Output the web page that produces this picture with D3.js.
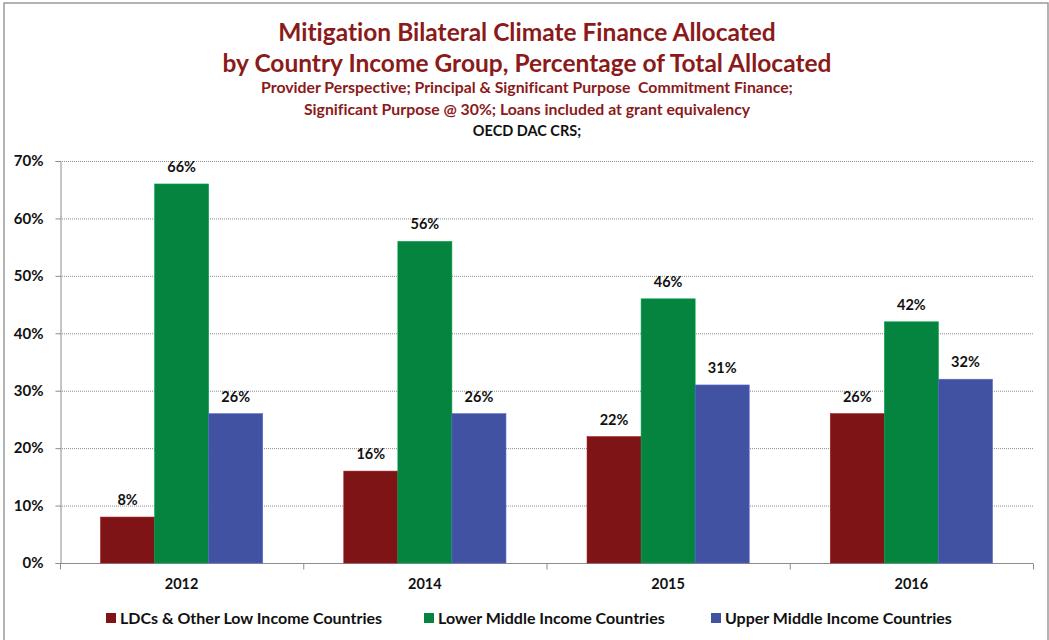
<!DOCTYPE html>
<html>
<head>
<meta charset="utf-8">
<script src="https://cdn.jsdelivr.net/npm/d3@7"></script>
<style>
  body { margin: 0; background: #fff; }
  text { font-family: Lato, "Open Sans", sans-serif; font-variant-ligatures: none; }
</style>
</head>
<body>
<script>
var width = 1049, height = 640;

var years = ["2012", "2014", "2015", "2016"];
var seriesNames = ["LDCs & Other Low Income Countries", "Lower Middle Income Countries", "Upper Middle Income Countries"];
var seriesColors = ["#7f1416", "#04843f", "#4152a3"];
var ldcValues = [8, 16, 22, 26];
var lmicValues = [66, 56, 46, 42];
var umicValues = [26, 26, 31, 32];
var yTicks = [0, 10, 20, 30, 40, 50, 60, 70];
var titleLines = ["Mitigation Bilateral Climate Finance Allocated", "by Country Income Group, Percentage of Total Allocated"];
var subtitleLines = ["Provider Perspective; Principal & Significant Purpose  Commitment Finance;", "Significant Purpose @ 30%; Loans included at grant equivalency"];
var sourceLine = "OECD DAC CRS;";

var series = [ldcValues, lmicValues, umicValues];

var svg = d3.select("body").append("svg")
    .attr("width", width)
    .attr("height", height);

// outer frame
svg.append("rect")
    .attr("x", 4).attr("y", 3)
    .attr("width", 1044).attr("height", 660)
    .style("fill", "white")
    .style("stroke", "#9a9a9a")
    .style("stroke-width", 1.5);

// titles
var titleY = [33, 64];
titleLines.forEach(function(t, i){
    svg.append("text")
        .attr("x", 527).attr("y", titleY[i] + 8)
        .attr("text-anchor", "middle")
        .style("font-size", "24.5px")
        .style("font-weight", "bold")
        .style("fill", "#8b1a1a")
        .text(t);
});
var subY = [88, 110];
subtitleLines.forEach(function(t, i){
    svg.append("text")
        .attr("x", 527).attr("y", subY[i] + 5)
        .attr("text-anchor", "middle")
        .style("font-size", "15.8px")
        .style("font-weight", "bold")
        .style("fill", "#8b1a1a")
        .style("white-space", "pre")
        .text(t);
});
svg.append("text")
    .attr("x", 527).attr("y", 136)
    .attr("text-anchor", "middle")
    .style("font-size", "14.5px")
    .style("font-weight", "bold")
    .style("fill", "#111")
    .text(sourceLine);

var plotLeft = 60, plotRight = 1033, plotTop = 161, plotBottom = 563;

var x = d3.scaleBand()
    .domain(years)
    .range([plotLeft, plotRight])
    .paddingInner(1 / 3)
    .paddingOuter(1 / 6);

var xs = d3.scaleBand()
    .domain(d3.range(series.length))
    .range([0, x.bandwidth()]);

var y = d3.scaleLinear()
    .domain([0, 70])
    .range([plotBottom, plotTop]);

// gridlines
svg.append("g").selectAll("line")
    .data(yTicks.filter(function(d){ return d > 0; }))
    .enter().append("line")
    .attr("x1", plotLeft).attr("x2", plotRight)
    .attr("y1", function(d){ return y(d) + 0.5; })
    .attr("y2", function(d){ return y(d) + 0.5; })
    .style("stroke", "#8c8c8c")
    .style("stroke-width", 1)
    .style("stroke-dasharray", "1,1");

// y axis
var yAxis = svg.append("g")
    .attr("transform", "translate(" + (plotLeft + 0.5) + ",0)")
    .call(d3.axisLeft(y).tickValues(yTicks).tickSize(5).tickPadding(12)
        .tickFormat(function(d){ return d + "%"; }));
yAxis.select(".domain").style("stroke", "#8c8c8c");
yAxis.selectAll(".tick line").style("stroke", "#8c8c8c");
yAxis.selectAll("text")
    .style("font-size", "15px")
    .style("font-weight", "bold")
    .style("fill", "#111");

// x axis
var xBoundaries = years.map(function(d){ return x(d) - x.step() * x.paddingOuter(); });
xBoundaries.push(plotRight);
var xAxis = svg.append("g")
    .attr("transform", "translate(0," + (plotBottom + 0.5) + ")");
xAxis.append("line")
    .attr("x1", plotLeft).attr("x2", plotRight)
    .style("stroke", "#8c8c8c");
xAxis.selectAll(".xtick")
    .data(xBoundaries)
    .enter().append("line")
    .attr("x1", function(d){ return d + 0.5; })
    .attr("x2", function(d){ return d + 0.5; })
    .attr("y1", 0).attr("y2", 6)
    .style("stroke", "#8c8c8c");
xAxis.selectAll(".xlabel")
    .data(years)
    .enter().append("text")
    .attr("x", function(d){ return x(d) + x.bandwidth() / 2; })
    .attr("y", 25)
    .attr("text-anchor", "middle")
    .style("font-size", "14.5px")
    .style("font-weight", "bold")
    .style("fill", "#111")
    .text(function(d){ return d; });

// bars
series.forEach(function(vals, si){
    var g = svg.append("g");
    g.selectAll("rect")
        .data(vals)
        .enter().append("rect")
        .attr("x", function(d, i){ return x(years[i]) + xs(si); })
        .attr("y", function(d){ return y(d); })
        .attr("width", xs.bandwidth())
        .attr("height", function(d){ return plotBottom - y(d); })
        .style("fill", seriesColors[si])
        .style("stroke", d3.color(seriesColors[si]).brighter(0.6))
        .style("stroke-width", 0.6);
    g.selectAll("text")
        .data(vals)
        .enter().append("text")
        .attr("x", function(d, i){ return x(years[i]) + xs(si) + xs.bandwidth() / 2; })
        .attr("y", function(d){ return y(d) - 12; })
        .attr("text-anchor", "middle")
        .style("font-size", "14.5px")
        .style("font-weight", "bold")
        .style("fill", "#111")
        .text(function(d){ return d + "%"; });
});

// legend
var legendX = [106, 424, 711];
seriesNames.forEach(function(name, i){
    svg.append("rect")
        .attr("x", legendX[i]).attr("y", 613)
        .attr("width", 10).attr("height", 10)
        .style("fill", seriesColors[i]);
    svg.append("text")
        .attr("x", legendX[i] + 14).attr("y", 623.5)
        .style("font-size", "16px")
        .style("font-weight", "bold")
        .style("fill", "#111")
        .text(name);
});
</script>
</body>
</html>
